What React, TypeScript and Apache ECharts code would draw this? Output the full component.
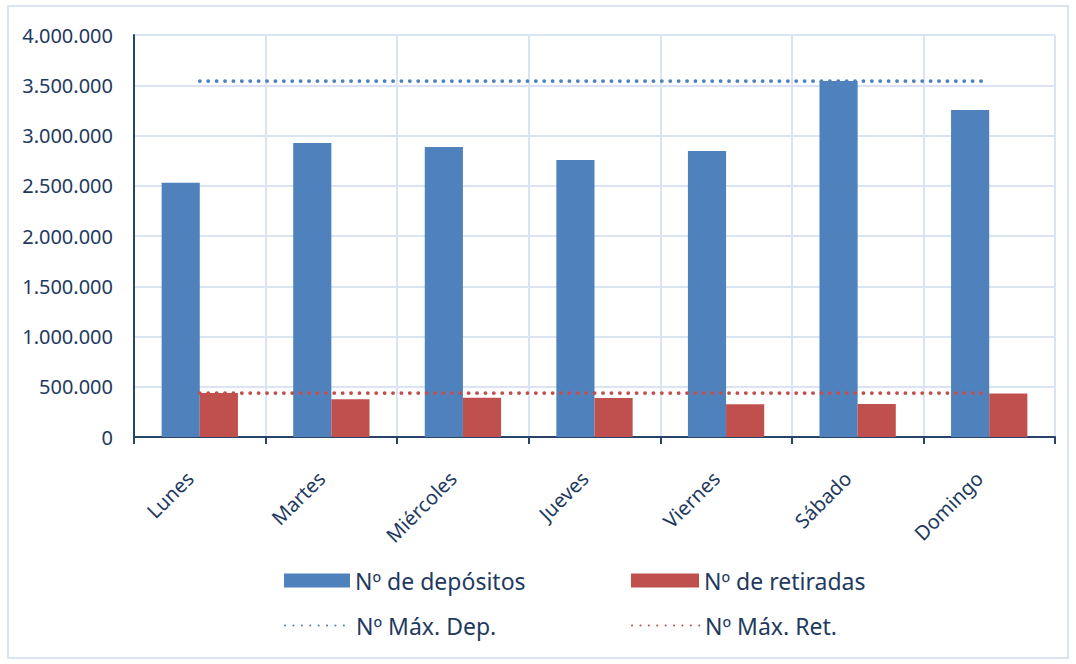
import React, { useEffect, useRef } from "react";
import * as echarts from "echarts";

const categories = ["Lunes", "Martes", "Miércoles", "Jueves", "Viernes", "Sábado", "Domingo"];
const depositos = [2530000, 2925000, 2886000, 2756000, 2846000, 3542000, 3254000];
const retiradas = [437000, 375000, 391000, 388000, 325000, 328000, 434000];
const maxDep = [3542000, 3542000, 3542000, 3542000, 3542000, 3542000, 3542000];
const maxRet = [437000, 437000, 437000, 437000, 437000, 437000, 437000];

const TEXT = "#1f3a5f";
const GRID = "#dbe4f1";
const AXIS = "#2a4468";
const BLUE = "#4f81bd";
const RED = "#c0504d";
const FONT = "'Noto Sans', 'Open Sans', sans-serif";

const fmt = (v: number) => String(Math.round(v)).replace(/\B(?=(\d{3})+(?!\d))/g, ".");

export default function App() {
  const ref = useRef<HTMLDivElement>(null);
  useEffect(() => {
    const chart = echarts.init(ref.current!, null, { renderer: "svg" });
    const legendText = { color: TEXT, fontSize: 23, fontFamily: FONT };
    const dotted = (color: string) => ({ color, width: 3.8, type: [0.1, 8.3] as number[], cap: "round" as const });
    const hideSym = { opacity: 0, borderWidth: 0 };
    chart.setOption({
      animation: false,
      textStyle: { fontFamily: FONT },
      graphic: [
        {
          type: "rect",
          shape: { x: 8, y: 6, width: 1060, height: 652 },
          style: { fill: "none", stroke: GRID, lineWidth: 2 },
          z: -1,
        },
      ],
      grid: { left: 134, right: 21, top: 35, bottom: 227, containLabel: false },
      legend: [
        { data: [{ name: "Nº de depósitos", icon: "rect" }], left: 279, top: 564, itemWidth: 66, itemHeight: 14, itemGap: 7, textStyle: legendText },
        { data: [{ name: "Nº de retiradas", icon: "rect" }], left: 626, top: 564, itemWidth: 68, itemHeight: 14, itemGap: 7, textStyle: legendText },
        { data: ["Nº Máx. Dep."], left: 279, top: 609, itemWidth: 66, itemHeight: 14, itemGap: 7, textStyle: legendText, itemStyle: hideSym },
        { data: ["Nº Máx. Ret."], left: 626, top: 609, itemWidth: 68, itemHeight: 14, itemGap: 7, textStyle: legendText, itemStyle: hideSym },
      ],
      xAxis: {
        type: "category",
        data: categories,
        boundaryGap: true,
        axisLine: { lineStyle: { color: AXIS, width: 2 } },
        axisTick: { show: true, length: 7, lineStyle: { color: AXIS, width: 2 } },
        splitLine: { show: true, lineStyle: { color: GRID, width: 2 } },
        axisLabel: { rotate: 45, color: TEXT, fontSize: 20, fontFamily: FONT, margin: 28, padding: [0, 14, 0, 0] },
      },
      yAxis: {
        type: "value",
        min: 0,
        max: 4000000,
        interval: 500000,
        axisLine: { show: true, lineStyle: { color: AXIS, width: 2 } },
        axisTick: { show: false },
        splitLine: { show: true, lineStyle: { color: GRID, width: 2 } },
        axisLabel: { color: TEXT, fontSize: 20, fontFamily: FONT, margin: 21, formatter: fmt },
      },
      series: [
        {
          name: "Nº de depósitos",
          type: "bar",
          data: depositos,
          itemStyle: { color: BLUE },
          barGap: "0%",
          barCategoryGap: "42%",
        },
        {
          name: "Nº de retiradas",
          type: "bar",
          data: retiradas,
          itemStyle: { color: RED },
        },
        {
          name: "Nº Máx. Dep.",
          type: "line",
          data: maxDep,
          symbol: "none",
          itemStyle: { color: BLUE },
          lineStyle: dotted(BLUE),
          z: 3,
        },
        {
          name: "Nº Máx. Ret.",
          type: "line",
          data: maxRet,
          symbol: "none",
          itemStyle: { color: RED },
          lineStyle: dotted(RED),
          z: 3,
        },
      ],
    });
    return () => chart.dispose();
  }, []);
  return (
    <div
      ref={ref}
      style={{ position: "fixed", left: 0, top: 0, width: 1076, height: 664, background: "#fff" }}
    />
  );
}
